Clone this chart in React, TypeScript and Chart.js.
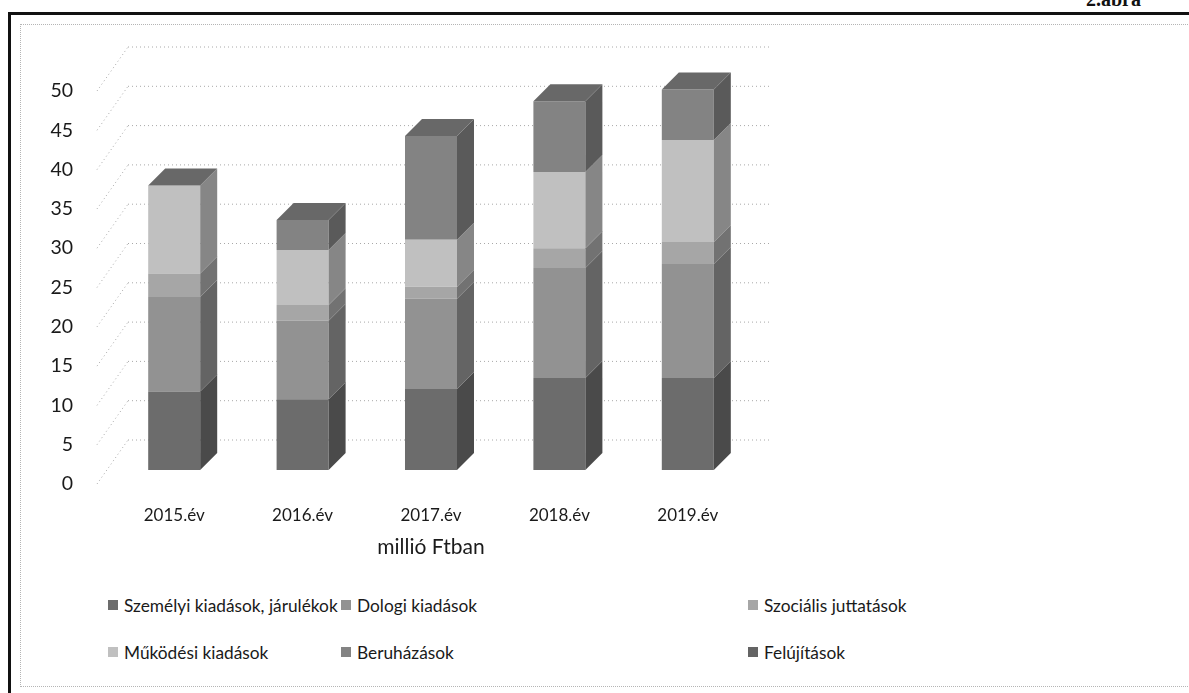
import React, { useEffect, useRef } from "react";
import { Chart, registerables } from "chart.js";

Chart.register(...registerables);

// ---- data (millió Ft) ----
const categories = ["2015.év", "2016.év", "2017.év", "2018.év", "2019.év"];
const seriesNames = [
  "Személyi kiadások, járulékok",
  "Dologi kiadások",
  "Szociális juttatások",
  "Működési kiadások",
  "Beruházások",
  "Felújítások",
];
const szemelyi = [10, 9, 10.3, 11.7, 11.7];
const dologi = [12, 10, 11.5, 14, 14.5];
const szocialis = [3, 2, 1.5, 2.5, 2.8];
const mukodesi = [11.2, 7, 6, 9.7, 13];
const beruhazas = [0, 3.8, 13.2, 9, 6.4];
const felujitas = [0, 0, 0, 0, 0];
const yTicks = [0, 5, 10, 15, 20, 25, 30, 35, 40, 45, 50];
const axisTitle = "millió Ftban";
const figureLabel = "2.ábra";

// ---- styles ----
const FONT = "Lato, 'Noto Sans', sans-serif";
const frontColors = ["#6c6c6c", "#929292", "#a6a6a6", "#c0c0c0", "#838383", "#646464"];
const sideColors = ["#4a4a4a", "#646464", "#727272", "#868686", "#5a5a5a", "#454545"];
const topColor = "#686868";
const DEPTH = 17;

const seriesValues = [szemelyi, dologi, szocialis, mukodesi, beruhazas, felujitas];

const wallPlugin = {
  id: "wall3d",
  beforeDatasetsDraw(chart: any) {
    const { ctx, chartArea, scales } = chart;
    const y = scales.y;
    ctx.save();
    ctx.strokeStyle = "#a8a8a8";
    ctx.lineWidth = 1;
    ctx.setLineDash([1, 3]);
    yTicks.forEach((v) => {
      const yb = y.getPixelForValue(v);
      ctx.beginPath();
      ctx.moveTo(chartArea.left + 18, yb - 30);
      ctx.lineTo(chartArea.right + 18, yb - 30);
      ctx.stroke();
      ctx.beginPath();
      ctx.moveTo(chartArea.left - 13, yb + 14);
      ctx.lineTo(chartArea.left + 18, yb - 30);
      ctx.stroke();
    });
    ctx.restore();
  },
};

const barPlugin = {
  id: "bar3d",
  afterDatasetsDraw(chart: any) {
    const { ctx } = chart;
    const n = chart.data.labels.length;
    ctx.save();
    for (let j = 0; j < n; j++) {
      let topEl: any = null;
      chart.data.datasets.forEach((ds: any, i: number) => {
        const v = ds.data[j];
        if (!v) return;
        const el = chart.getDatasetMeta(i).data[j];
        const { x, y, base, width } = el.getProps(["x", "y", "base", "width"], true);
        const r = x + width / 2;
        ctx.fillStyle = sideColors[i];
        ctx.beginPath();
        ctx.moveTo(r, y);
        ctx.lineTo(r + DEPTH, y - DEPTH);
        ctx.lineTo(r + DEPTH, base - DEPTH);
        ctx.lineTo(r, base);
        ctx.closePath();
        ctx.fill();
        topEl = { x, y, width };
      });
      if (topEl) {
        const l = topEl.x - topEl.width / 2;
        const r = topEl.x + topEl.width / 2;
        ctx.fillStyle = topColor;
        ctx.beginPath();
        ctx.moveTo(l, topEl.y);
        ctx.lineTo(l + DEPTH, topEl.y - DEPTH);
        ctx.lineTo(r + DEPTH, topEl.y - DEPTH);
        ctx.lineTo(r, topEl.y);
        ctx.closePath();
        ctx.fill();
      }
    }
    ctx.restore();
  },
};

function ChartCanvas() {
  const ref = useRef<HTMLCanvasElement | null>(null);
  useEffect(() => {
    if (!ref.current) return;
    const chart = new Chart(ref.current, {
      type: "bar",
      data: {
        labels: categories,
        datasets: seriesNames.map((name, i) => ({
          label: name,
          data: seriesValues[i],
          backgroundColor: frontColors[i],
          borderWidth: 0,
          barPercentage: 0.405,
          categoryPercentage: 1,
        })),
      },
      options: {
        responsive: false,
        animation: false,
        layout: { padding: { left: 0, right: 68, top: 57, bottom: 0 } },
        plugins: { legend: { display: false }, tooltip: { enabled: false } },
        scales: {
          x: {
            stacked: true,
            grid: { display: false, drawTicks: false },
            border: { display: false },
            ticks: { padding: 35, color: "#1a1a1a", font: { family: FONT, size: 17 } },
            title: {
              display: true,
              text: axisTitle,
              color: "#1a1a1a",
              padding: 0,
              font: { family: FONT, size: 21 },
            },
            afterFit: (s: any) => {
              s.height = 90;
            },
          },
          y: {
            stacked: true,
            min: 0,
            max: 50,
            grid: { display: false, drawTicks: false },
            border: { display: false },
            ticks: {
              stepSize: 5,
              padding: 37,
              labelOffset: 14,
              color: "#1a1a1a",
              font: { family: FONT, size: 19.5 },
            },
            afterFit: (s: any) => {
              s.width = 90;
            },
          },
        },
      },
      plugins: [wallPlugin, barPlugin],
    });
    return () => chart.destroy();
  }, []);
  return (
    <canvas
      ref={ref}
      width={800}
      height={540}
      style={{ position: "absolute", left: 20, top: 20, width: 800, height: 540 }}
    />
  );
}

const legendPos = [
  { x: 108, y: 605 },
  { x: 341, y: 605 },
  { x: 748, y: 605 },
  { x: 108, y: 652 },
  { x: 341, y: 652 },
  { x: 748, y: 652 },
];

export default function App() {
  return (
    <div
      style={{
        position: "fixed",
        left: 0,
        top: 0,
        width: 1189,
        height: 693,
        background: "#ffffff",
        overflow: "hidden",
        fontFamily: FONT,
      }}
    >
      <div
        style={{
          position: "absolute",
          left: 1086,
          top: -11,
          fontFamily: "'Liberation Serif', serif",
          fontWeight: "bold",
          fontSize: 20,
          lineHeight: "20px",
          color: "#111",
        }}
      >
        {figureLabel}
      </div>
      <div style={{ position: "absolute", left: 8, top: 12, width: 1181, height: 3, background: "#111" }} />
      <div style={{ position: "absolute", left: 8, top: 12, width: 3, height: 681, background: "#111" }} />
      <div
        style={{
          position: "absolute",
          left: 20,
          top: 24,
          width: 1180,
          height: 663,
          border: "1px dotted #b5b5b5",
          boxSizing: "border-box",
        }}
      />
      <ChartCanvas />
      {seriesNames.map((name, i) => (
        <div
          key={name}
          style={{
            position: "absolute",
            left: legendPos[i].x,
            top: legendPos[i].y - 12,
            height: 24,
            display: "flex",
            alignItems: "center",
            whiteSpace: "nowrap",
            fontSize: 17.3,
            color: "#1a1a1a",
          }}
        >
          <span
            style={{
              display: "inline-block",
              width: 10,
              height: 10,
              background: frontColors[i],
              marginRight: 6,
            }}
          />
          {name}
        </div>
      ))}
    </div>
  );
}
